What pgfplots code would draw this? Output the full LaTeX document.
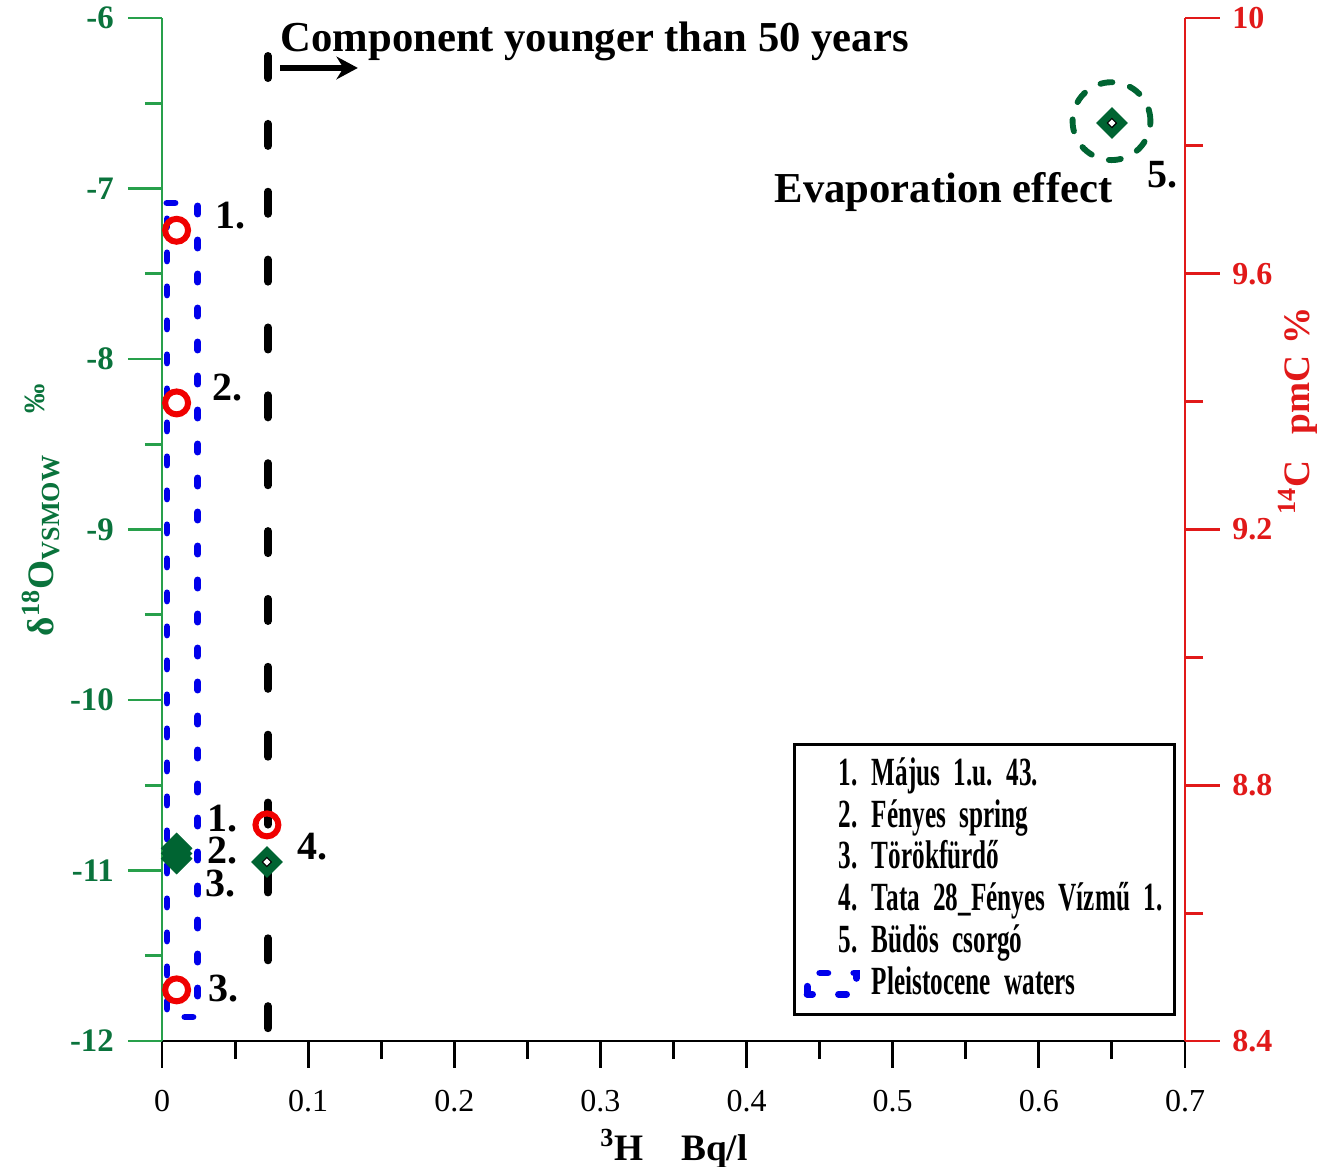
\documentclass[border=0pt]{standalone}
\usepackage{fontspec}
\setmainfont{Liberation Serif}
\newfontfamily\legfont[FakeStretch=0.63,WordSpace=0.8]{Liberation Serif}
\usepackage{pgfplots}
\pgfplotsset{compat=1.18}
\usetikzlibrary{arrows.meta}
\definecolor{axgreen}{RGB}{40,160,75}
\definecolor{lblgreen}{RGB}{10,115,60}
\definecolor{mkgreen}{RGB}{0,100,50}
\definecolor{axred}{RGB}{225,25,25}
\definecolor{mkred}{RGB}{240,0,0}
\definecolor{myblue}{RGB}{0,0,235}
\newcommand{\fs}[1]{\fontsize{#1}{#1}\selectfont}
\frenchspacing
\begin{document}
\begin{tikzpicture}
\useasboundingbox (0pt,0pt) rectangle (498.375pt,437.25pt);
\pgfplotsset{base/.style={at={(60.75pt,46.875pt)}, anchor=south west, scale only axis,
  width=383.625pt, height=383.625pt, xmin=0, xmax=0.7, clip=false}}
% ---------- x axis ----------
\begin{axis}[base, ymin=-12, ymax=-6, hide y axis, axis x line*=bottom,
  x axis line style={black,line width=1.1pt,-},
  xtick={0,0.1,0.2,0.3,0.4,0.5,0.6,0.7},
  xticklabels={0,0.1,0.2,0.3,0.4,0.5,0.6,0.7},
  minor x tick num=1, tick align=outside, major tick length=10pt, minor tick length=6.8pt,
  every tick/.append style={black,line width=1.1pt},
  xticklabel style={font=\fs{12}, yshift=-5pt},
  xlabel={\textbf{\textsuperscript{3}H\hspace{1em}Bq/l}},
  xlabel style={at={(axis description cs:0.5005,-0.1056)}, anchor=center, font=\fs{14}},
]
\end{axis}
% ---------- left axis (delta 18O) ----------
\begin{axis}[base, ymin=-12, ymax=-6, hide x axis, axis y line*=left,
  y axis line style={axgreen,line width=1.1pt,-},
  ytick={-12,-11,-10,-9,-8,-7,-6},
  yticklabels={-12,-11,-10,-9,-8,-7,-6},
  minor y tick num=1, tick align=outside, major tick length=12.75pt, minor tick length=6.4pt,
  every tick/.append style={axgreen,line width=1.1pt},
  yticklabel style={font=\fs{12.3}\bfseries, text=lblgreen, xshift=-1.8pt},
  ylabel={\bfseries δ\textsuperscript{18}O\textsubscript{VSMOW}\hspace{1.1em}\raisebox{0.25em}{\fs{11}‰}},
  ylabel style={at={(axis description cs:-0.118,0.519)}, anchor=center, font=\fs{14}, text=lblgreen},
]
% Pleistocene waters box
\addplot[myblue, line width=2.6pt, dash pattern=on 3pt off 9.75pt, line cap=round, mark=none]
  coordinates {(0.0034,-7.085) (0.0246,-7.085) (0.0246,-11.859) (0.0034,-11.859) (0.0034,-7.085)};
% component younger than 50 years line
\addplot[black, line width=3pt, dash pattern=on 8.25pt off 17.2pt, line cap=round, mark=none]
  coordinates {(0.0725,-6.223) (0.0725,-11.93)};
% delta 18O points 1-3 (filled)
\addplot[only marks, mark=square*, mark size=4pt,
  mark options={rotate=45, fill=mkgreen, draw=mkgreen, line width=0.4pt}]
  coordinates {(0.01,-10.87) (0.01,-10.90) (0.01,-10.93)};
% delta 18O points 4, 5 (open)
\addplot[only marks, mark=square*, mark size=4pt,
  mark options={rotate=45, fill=mkgreen, draw=mkgreen, line width=0.4pt}]
  coordinates {(0.0718,-10.95) (0.65,-6.616)};
\addplot[only marks, mark=square*, mark size=1.2pt,
  mark options={rotate=45, fill=white, draw=none}]
  coordinates {(0.0718,-10.95) (0.65,-6.616)};
% evaporation circle
\addplot[only marks, mark=o, mark size=14.6pt,
  mark options={draw=mkgreen, line width=2.2pt, dash pattern=on 4.5pt off 6.8pt, line cap=round}]
  coordinates {(0.6497,-6.605)};
% annotations
\node[anchor=base west, font=\fs{16}\bfseries, inner sep=0pt] at (axis cs:0.0808,-6.199) {Component younger than 50 years};
\draw[-{Stealth[length=8pt,width=8.5pt]}, line width=2pt] (axis cs:0.0808,-6.293) -- (axis cs:0.134,-6.293);
\node[anchor=base east, font=\fs{16}\bfseries, inner sep=0pt] at (axis cs:0.6507,-7.085) {Evaporation effect};
\node[anchor=base west, font=\fs{15}\bfseries, inner sep=0pt] at (axis cs:0.674,-6.997) {5.};
\node[anchor=base west, font=\fs{15}\bfseries, inner sep=0pt] at (axis cs:0.0363,-7.232) {1.};
\node[anchor=base west, font=\fs{15}\bfseries, inner sep=0pt] at (axis cs:0.0342,-8.246) {2.};
\node[anchor=base west, font=\fs{15}\bfseries, inner sep=0pt] at (axis cs:0.0308,-10.774) {1.};
\node[anchor=base west, font=\fs{15}\bfseries, inner sep=0pt] at (axis cs:0.0308,-10.956) {2.};
\node[anchor=base west, font=\fs{15}\bfseries, inner sep=0pt] at (axis cs:0.0294,-11.155) {3.};
\node[anchor=base west, font=\fs{15}\bfseries, inner sep=0pt] at (axis cs:0.0924,-10.938) {4.};
\node[anchor=base west, font=\fs{15}\bfseries, inner sep=0pt] at (axis cs:0.0315,-11.771) {3.};
\end{axis}
% ---------- right axis (14C) ----------
\begin{axis}[base, ymin=8.4, ymax=10, hide x axis, axis y line*=right,
  y axis line style={axred,line width=1.1pt,-},
  ytick={8.4,8.8,9.2,9.6,10},
  yticklabels={8.4,8.8,9.2,9.6,10},
  minor y tick num=1, tick align=outside, major tick length=13pt, minor tick length=6.75pt,
  every tick/.append style={axred,line width=1.1pt},
  yticklabel style={font=\fs{12}\bfseries, text=axred, xshift=1.2pt},
  ylabel={\bfseries \textsuperscript{14}C\hspace{0.7em}pmC\hspace{0.3em}\%},
  ylabel style={at={(axis description cs:1.110,0.616)}, anchor=center, font=\fs{14}, text=axred},
  legend cell align=left,
  legend style={at={(0.9913,0.0244)}, anchor=south east, draw=black, line width=1.1pt,
    inner xsep=3.5pt, inner ysep=3.5pt, font=\legfont\fs{15}\bfseries\frenchspacing,
    column sep=4.5pt, row sep=0pt,
    nodes={inner sep=0pt, text height=11.7pt, text depth=4pt, text width=110pt, align=left}},
]
\addplot[only marks, mark=o, mark size=4.3pt, mark options={draw=mkred, line width=2.25pt}, forget plot]
  coordinates {(0.01,9.668) (0.01,9.398) (0.01,8.48) (0.0718,8.738)};
\addlegendimage{legend image code/.code={\node[anchor=east, inner sep=0pt, text width={}, font=\legfont\fs{15}\bfseries] at (21pt,0pt) {1.};}}
\addlegendentry{Május 1.u. 43.}
\addlegendimage{legend image code/.code={\node[anchor=east, inner sep=0pt, text width={}, font=\legfont\fs{15}\bfseries] at (21pt,0pt) {2.};}}
\addlegendentry{Fényes spring}
\addlegendimage{legend image code/.code={\node[anchor=east, inner sep=0pt, text width={}, font=\legfont\fs{15}\bfseries] at (21pt,0pt) {3.};}}
\addlegendentry{Törökfürdő}
\addlegendimage{legend image code/.code={\node[anchor=east, inner sep=0pt, text width={}, font=\legfont\fs{15}\bfseries] at (21pt,0pt) {4.};}}
\addlegendentry{Tata 28\_Fényes Vízmű 1.}
\addlegendimage{legend image code/.code={\node[anchor=east, inner sep=0pt, text width={}, font=\legfont\fs{15}\bfseries] at (21pt,0pt) {5.};}}
\addlegendentry{Büdös csorgó}
\addlegendimage{legend image code/.code={\draw[myblue, line width=2.6pt, dash pattern=on 3pt off 9.75pt, line cap=round] (1.5pt,-3.75pt) rectangle (20pt,4.25pt);}}
\addlegendentry{Pleistocene waters}
\end{axis}
\end{tikzpicture}
\end{document}
